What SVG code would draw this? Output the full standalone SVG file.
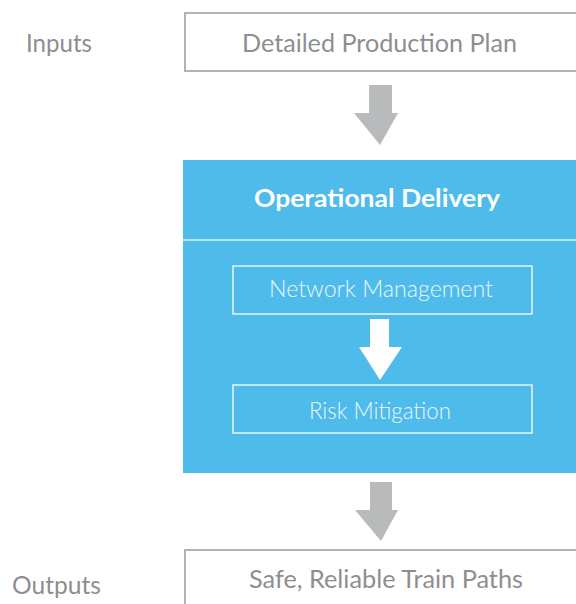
<svg xmlns="http://www.w3.org/2000/svg" width="576" height="604" viewBox="0 0 576 604">
<style>
.lbl{font-family:Lato,"Liberation Sans",sans-serif;font-size:25px;fill:#8e8e90;}
.gbox{fill:#fff;stroke:#b3b3b3;stroke-width:2;}
.wbox{fill:none;stroke:#e8f6fd;stroke-width:1.5;}
.wt{font-family:Lato,"Liberation Sans",sans-serif;font-size:23px;font-weight:300;fill:#eaf7fd;text-anchor:middle;}
.garrow{fill:#b9babc;}
</style>
<rect width="576" height="604" fill="#fff"/>
<g id="inputs-label"><text class="lbl" x="26" y="52" textLength="66" lengthAdjust="spacingAndGlyphs">Inputs</text></g>
<g id="outputs-label"><text class="lbl" x="12" y="594" textLength="89" lengthAdjust="spacingAndGlyphs">Outputs</text></g>
<g id="plan">
<rect class="gbox" x="185" y="13" width="400" height="58"/>
<text class="lbl" x="379.5" y="52" text-anchor="middle" textLength="275" lengthAdjust="spacingAndGlyphs">Detailed Production Plan</text>
</g>
<g id="delivery">
<rect x="183" y="160" width="393" height="313" fill="#4fbbea"/>
<line x1="183" y1="240" x2="576" y2="240" stroke="#d9f0fb" stroke-width="1.5"/>
<text x="377" y="207" text-anchor="middle" font-family="Lato,'Liberation Sans',sans-serif" font-size="24" font-weight="bold" fill="#fff" textLength="246" lengthAdjust="spacingAndGlyphs">Operational Delivery</text>
</g>
<g id="network">
<rect class="wbox" x="233" y="266" width="299" height="48"/>
<text class="wt" x="381" y="297" textLength="224" lengthAdjust="spacingAndGlyphs">Network Management</text>
</g>
<g id="risk">
<rect class="wbox" x="233" y="385" width="299" height="48"/>
<text class="wt" x="380" y="419" textLength="142" lengthAdjust="spacingAndGlyphs">Risk Mitigation</text>
</g>
<g id="outputs">
<rect class="gbox" x="185" y="550" width="400" height="70"/>
<text class="lbl" x="386" y="588" text-anchor="middle" textLength="274" lengthAdjust="spacingAndGlyphs">Safe, Reliable Train Paths</text>
</g>
<g id="connectors">
<polygon class="garrow" points="369,85 392,85 392,113 398,113 380,145 354,113 369,113"/>
<polygon fill="#fff" points="370,319 389,319 389,347 402,347 380,380 359,347 370,347"/>
<polygon class="garrow" points="370,482 392,482 392,510 398,510 381,541 355,510 370,510"/>
</g>
</svg>
